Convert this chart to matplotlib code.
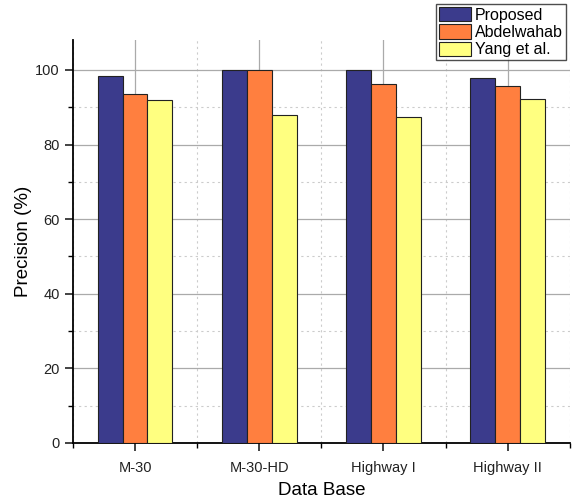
import matplotlib
matplotlib.use('Agg')
import matplotlib.pyplot as plt
import numpy as np
from matplotlib.ticker import MultipleLocator

plt.rcParams['font.family'] = ['Liberation Sans', 'DejaVu Sans']

databases = ['M-30', 'M-30-HD', 'Highway I', 'Highway II']
proposed = [98.4, 100.0, 100.0, 97.8]
abdelwahab = [93.5, 100.0, 96.2, 95.8]
yang = [92.0, 87.8, 87.4, 92.3]

series = [('Proposed', proposed, '#3b3b8c'),
          ('Abdelwahab', abdelwahab, '#ff7f3f'),
          ('Yang et al.', yang, '#ffff80')]

fig = plt.figure(figsize=(5.79, 5.01), dpi=100)
ax = fig.add_axes([0.126, 0.116, 0.858, 0.804])

x = np.arange(1, len(databases) + 1)
w = 0.2
for i, (name, vals, col) in enumerate(series):
    ax.bar(x + (i - 1) * w, vals, w, color=col, edgecolor='#222222',
           linewidth=0.8, label=name, zorder=3)

ax.set_xlim(0.5, 4.5)
ax.set_ylim(0, 108)
ax.set_xticks(x)
ax.set_xticklabels(databases)
ax.set_xticks(np.arange(0.5, 4.6, 1.0), minor=True)
ax.yaxis.set_major_locator(MultipleLocator(20))
ax.yaxis.set_minor_locator(MultipleLocator(10))

ax.grid(which='major', color='#aaaaaa', linewidth=0.9, linestyle='-', zorder=0)
ax.grid(which='minor', color='#cccccc', linewidth=0.8, linestyle=(0, (2, 3)), zorder=0)
ax.set_axisbelow(True)

for s in ['top', 'right']:
    ax.spines[s].set_visible(False)
for s in ['left', 'bottom']:
    ax.spines[s].set_linewidth(1.3)

ax.tick_params(which='major', direction='out', length=6, width=1.2, labelsize=10.5, colors='#222222')
ax.tick_params(axis='x', which='major', pad=7)
ax.tick_params(which='minor', direction='out', length=3.5, width=1.0)

ax.set_xlabel('Data Base', fontsize=13.5, labelpad=5)
ax.set_ylabel('Precision (%)', fontsize=13.5, labelpad=2)

leg = ax.legend(loc='upper right', bbox_to_anchor=(0.978, 0.992),
                bbox_transform=fig.transFigure, fontsize=11.5, frameon=True,
                fancybox=False, edgecolor='#222222', borderpad=0.2,
                labelspacing=0.1, handlelength=2.0, handleheight=1.0,
                handletextpad=0.25, borderaxespad=0)
leg.get_frame().set_linewidth(1.0)
leg.set_zorder(5)

fig.savefig('out.png', dpi=100)
